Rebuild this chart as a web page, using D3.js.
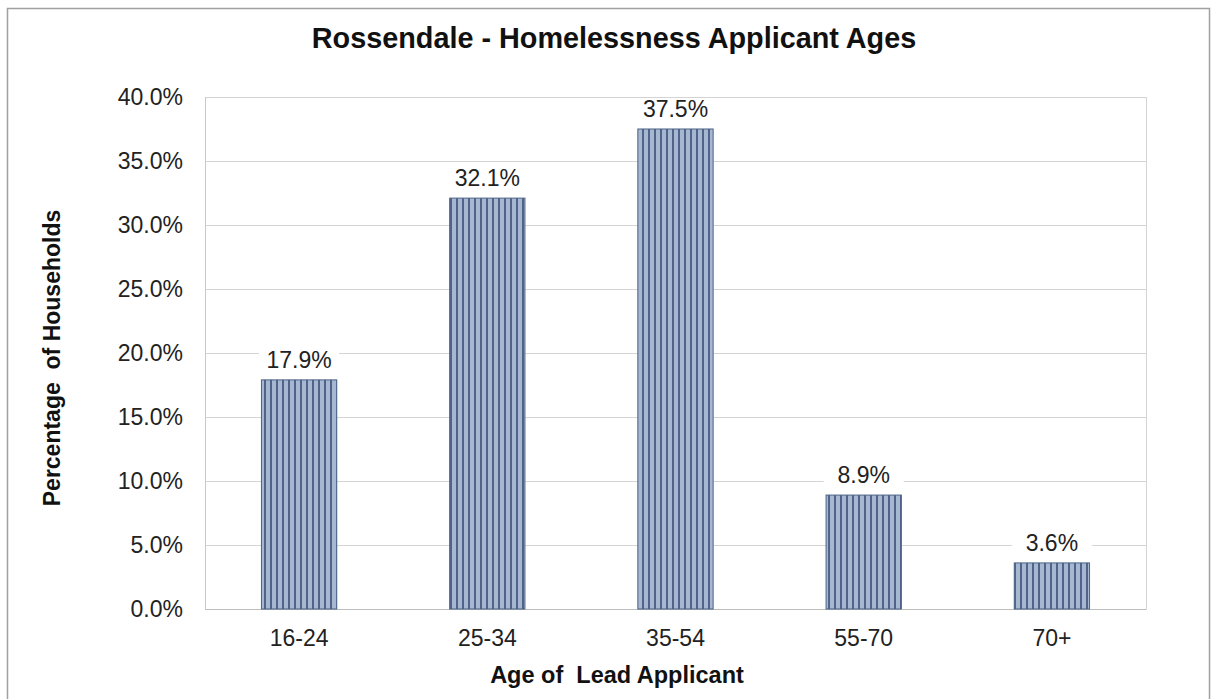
<!DOCTYPE html>
<html><head><meta charset="utf-8">
<script src="https://cdn.jsdelivr.net/npm/d3@7"></script>
<style>body{margin:0;background:#fff;}svg{display:block;font-family:"Liberation Sans",Arial,sans-serif;}</style>
</head><body>
<svg id="c" width="1211" height="699"></svg>
<script>
const categories = ["16-24","25-34","35-54","55-70","70+"];
const values = [17.9, 32.1, 37.5, 8.9, 3.6];
const yTicks = [0,5,10,15,20,25,30,35,40];
const title = "Rossendale - Homelessness Applicant Ages";
const xTitle = "Age of  Lead Applicant";
const yTitle = "Percentage  of Households";

const svg = d3.select("#c");
const m = {left:205, right:1146, top:97, bottom:609};

// outer frame
svg.append("rect").attr("x",7.5).attr("y",8.5).attr("width",1202).attr("height",700)
  .attr("fill","none").attr("stroke","#a0a0a0").attr("stroke-width",1.5);

const defs = svg.append("defs");
const pat = defs.append("pattern").attr("id","stripes").attr("patternUnits","userSpaceOnUse")
  .attr("width",6).attr("height",10);
pat.append("rect").attr("width",6).attr("height",10).attr("fill","#a6b7d1");
pat.append("rect").attr("x",0).attr("width",2).attr("height",10).attr("fill","#52638a");

const x = d3.scaleBand().domain(categories).range([m.left,m.right]).paddingInner(0.6).paddingOuter(0.3);
const y = d3.scaleLinear().domain([0,40]).range([m.bottom,m.top]);

// gridlines
svg.append("g").selectAll("line").data(yTicks).join("line")
  .attr("x1",m.left).attr("x2",m.right).attr("y1",d=>y(d)+0.5).attr("y2",d=>y(d)+0.5)
  .attr("stroke","#d4d4d4").attr("stroke-width",1);
// plot border sides
svg.append("line").attr("x1",m.left+0.5).attr("x2",m.left+0.5).attr("y1",m.top).attr("y2",m.bottom)
  .attr("stroke","#c8c8c8");
svg.append("line").attr("x1",m.right+0.5).attr("x2",m.right+0.5).attr("y1",m.top).attr("y2",m.bottom)
  .attr("stroke","#d4d4d4");

// y axis
const yAxis = d3.axisLeft(y).tickValues(yTicks).tickFormat(d=>d.toFixed(1)+"%").tickSize(0).tickPadding(22);
const ya = svg.append("g").attr("transform",`translate(${m.left},0)`).call(yAxis);
ya.select(".domain").remove();
ya.selectAll("text").attr("font-size",23).attr("fill","#222").attr("font-family","Liberation Sans, Arial, sans-serif");

// x axis
const xAxis = d3.axisBottom(x).tickSize(0).tickPadding(21);
const xa = svg.append("g").attr("transform",`translate(0,${m.bottom})`).call(xAxis);
xa.select(".domain").attr("stroke","#bdbdbd");
xa.selectAll("text").attr("font-size",23).attr("fill","#222").attr("font-family","Liberation Sans, Arial, sans-serif");

// bars
svg.append("g").selectAll("rect").data(values).join("rect")
  .attr("x",(d,i)=>x(categories[i])).attr("width",x.bandwidth())
  .attr("y",d=>y(d)).attr("height",d=>y(0)-y(d))
  .attr("fill","url(#stripes)").attr("stroke","#4a6386").attr("stroke-width",1);

// data labels with white background
const lbl = svg.append("g").selectAll("g").data(values).join("g")
  .attr("transform",(d,i)=>`translate(${x(categories[i])+x.bandwidth()/2},${y(d)-12})`);
lbl.append("rect").attr("x",-40).attr("y",-19).attr("width",80).attr("height",23).attr("fill","#fff");
lbl.append("text").attr("text-anchor","middle").attr("font-size",23).attr("fill","#222")
  .text(d=>d.toFixed(1)+"%");

// titles
svg.append("text").attr("x",614).attr("y",48).attr("text-anchor","middle")
  .attr("font-size",28.8).attr("font-weight","bold").attr("fill","#111").style("white-space","pre").text(title);
svg.append("text").attr("x",617).attr("y",683).attr("text-anchor","middle")
  .attr("font-size",23.5).attr("font-weight","bold").attr("fill","#111").style("white-space","pre").text(xTitle);
svg.append("text").attr("transform","translate(60,358) rotate(-90)").attr("text-anchor","middle")
  .attr("font-size",23).attr("font-weight","bold").attr("fill","#111").style("white-space","pre").text(yTitle);
</script>
</body></html>
